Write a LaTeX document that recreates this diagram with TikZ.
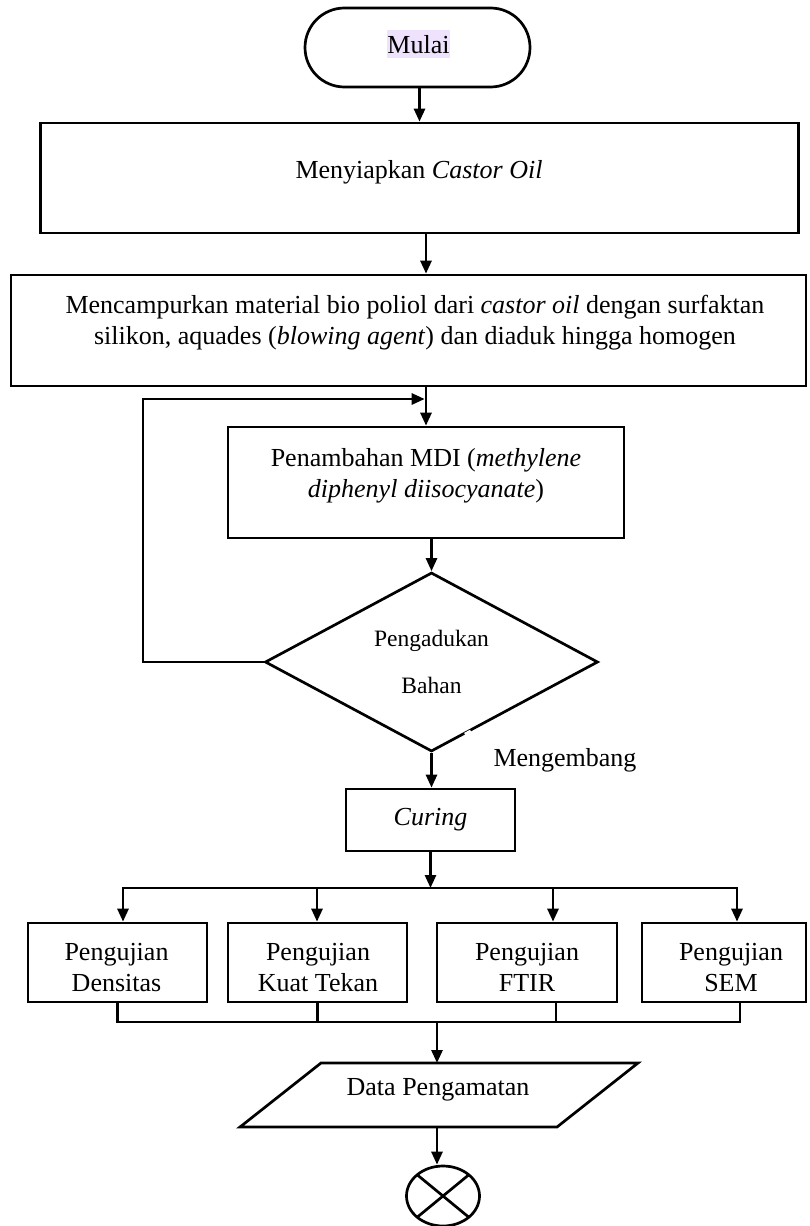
\documentclass[tikz,border=0pt]{standalone}
\usepackage{fontspec}
\setmainfont{Liberation Serif}
\usetikzlibrary{arrows.meta,shapes.geometric,calc}
\definecolor{hl}{HTML}{EEE2FC}
\begin{document}
\begin{tikzpicture}[x=1pt,y=-1pt,line width=2.7pt,
  every node/.style={font=\fontsize{26}{31}\selectfont,inner sep=0pt},
  box/.style={draw,rectangle},
  arr/.style={-{Triangle[length=13pt,width=11pt]}},
  txt/.style={align=center}]
\useasboundingbox (0,0) rectangle (809,1226);
% start
\node[box,rounded corners=39.5pt,minimum width=225pt,minimum height=79pt] (mulai) at (417.5,47.5) {};
\node[fill=hl,inner xsep=0.5pt,text height=23pt,text depth=5pt] (mulaiT) at (418.5,44) {Mulai};
% box 1
\node[box,minimum width=758pt,minimum height=110pt] (box1) at (419.5,178) {};
\node (t1) at (419,172) {Menyiapkan \textit{Castor Oil}};
% box 2
\node[box,minimum width=795pt,minimum height=111pt] (box2) at (408.5,330.5) {};
\node[txt] (t2) at (415,323) {Mencampurkan material bio poliol dari \textit{castor oil} dengan surfaktan\\silikon, aquades (\textit{blowing agent}) dan diaduk hingga homogen};
% box 3
\node[box,minimum width=396pt,minimum height=111pt] (box3) at (426,482.5) {};
\node[txt] (t3) at (426,476) {Penambahan MDI (\textit{methylene}\\\textit{diphenyl diisocyanate})};
% decision
\node[draw,diamond,shape aspect=1.86,minimum width=333pt,minimum height=179pt,align=center,font=\fontsize{23.5}{28}\selectfont] (dia) at (431.5,662) {Pengadukan\\[19pt]Bahan};
\draw[white,line width=4pt] ($(dia.east)!0.765!(dia.south)$) -- ($(dia.east)!0.80!(dia.south)$);
\node (meng) at (565,760) {Mengembang};
% curing
\node[box,minimum width=169pt,minimum height=62pt] (cur) at (430.5,820) {\textit{Curing}};
% tests
\node[box,minimum width=179pt,minimum height=79pt] (pA) at (117.5,962.5) {};
\node[box,minimum width=179pt,minimum height=79pt] (pB) at (317.5,962.5) {};
\node[box,minimum width=180pt,minimum height=79pt] (pC) at (527,962.5) {};
\node[box,minimum width=164pt,minimum height=79pt] (pD) at (724,962.5) {};
\node[txt] (tA) at (116.5,967.5) {Pengujian\\Densitas};
\node[txt] (tB) at (318,967.5) {Pengujian\\Kuat Tekan};
\node[txt] (tC) at (527,967.5) {Pengujian\\FTIR};
\node[txt] (tD) at (731,967.5) {Pengujian\\SEM};
% data
\coordinate (dTL) at (321,1063);
\coordinate (dTR) at (638,1063);
\coordinate (dBR) at (557,1127);
\coordinate (dBL) at (240,1127);
\draw (dTL) -- (dTR) -- (dBR) -- (dBL) -- cycle;
\node (data) at (438,1090) {Data Pengamatan};
% end
\node[draw,ellipse,minimum width=73pt,minimum height=60pt] (endc) at (443,1196) {};
\draw ($(endc.center)+(-25.8,-21.2)$) -- ($(endc.center)+(25.8,21.2)$);
\draw ($(endc.center)+(25.8,-21.2)$) -- ($(endc.center)+(-25.8,21.2)$);
% connectors
\draw[arr] (box1.north |- mulai.south) -- (box1.north);
\draw[arr] (box1.south -| box3.north) -- (box2.north -| box3.north);
\draw[arr] (box2.south -| box3.north) -- (box3.north);
\coordinate (fbx) at (143,0);
\coordinate (fbt) at (426,399);
\draw[arr,shorten >=1.3pt] (dia.west) -- (dia.west -| fbx) -- (fbx |- fbt) -- (fbt);
\draw[arr] (box3.south -| dia.north) -- (dia.north);
\draw[arr] (dia.south) -- (dia.south |- cur.north);
\coordinate (brA) at (123,888);
\coordinate (brB) at (317,888);
\coordinate (brC) at (553,888);
\coordinate (brD) at (737,888);
\draw[line cap=rect] (brA) -- (brD);
\draw[arr] (cur.south) -- (cur.south |- brA);
\draw[arr] (brA) -- (brA |- pA.north);
\draw[arr] (brB) -- (brB |- pB.north);
\draw[arr] (brC) -- (brC |- pC.north);
\draw[arr] (brD) -- (brD |- pD.north);
\coordinate (bC) at (556,1022);
\coordinate (bD) at (740,1022);
\coordinate (bM) at (437,1022);
\draw (pA.south) -- (pA.south |- bC) -- (bD) -- (bD |- pD.south);
\draw (pB.south) -- (pB.south |- bC);
\draw (bC) -- (bC |- pC.south);
\draw[arr] (bM) -- (bM |- dTL);
\draw[arr] (dBL -| bM) -- (bM |- endc.north);
\end{tikzpicture}
\end{document}
